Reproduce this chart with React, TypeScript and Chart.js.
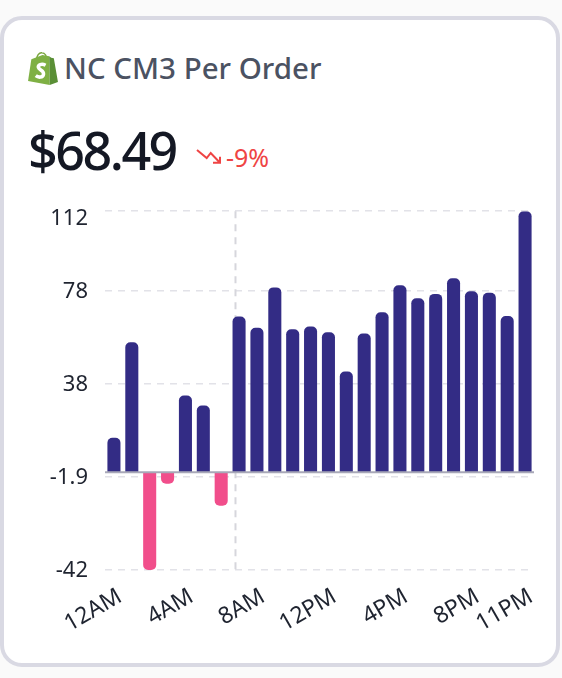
import {useEffect, useRef} from 'react';
import {Chart, registerables} from 'chart.js';

Chart.register(...registerables);

const hours = ['12AM', '1AM', '2AM', '3AM', '4AM', '5AM', '6AM', '7AM', '8AM', '9AM', '10AM', '11AM', '12PM', '1PM', '2PM', '3PM', '4PM', '5PM', '6PM', '7PM', '8PM', '9PM', '10PM', '11PM'];
const values = [14.8, 55.7, -42, -5, 32.9, 28.6, -14.4, 66.8, 62, 79.3, 61.3, 62.5, 60, 43.2, 59.5, 68.6, 80.2, 74.6, 76.5, 83.2, 77.6, 77, 67, 112];
const shownHours = ['12AM', '4AM', '8AM', '12PM', '4PM', '8PM', '11PM'];
const yTicks = [112, 78, 38, -1.9, -42];
// where the dashed marker falls on the category axis, between 6AM and 7AM
const markerAt = 6.8;

const FONT = '"Noto Sans", sans-serif';

const referenceLines = {
	id: 'referenceLines',
	beforeDatasetsDraw(chart: any) {
		const {ctx, chartArea, scales} = chart;
		const x = scales.x.getPixelForValue(markerAt);
		ctx.save();
		ctx.strokeStyle = '#d6d6dc';
		ctx.lineWidth = 2;
		ctx.setLineDash([7, 6]);
		ctx.beginPath();
		ctx.moveTo(x, chartArea.top);
		ctx.lineTo(x, chartArea.bottom);
		ctx.stroke();
		ctx.restore();
	},
	afterDatasetsDraw(chart: any) {
		const {ctx, chartArea, scales} = chart;
		const y = scales.y.getPixelForValue(0);
		ctx.save();
		ctx.strokeStyle = '#a8a8b8';
		ctx.lineWidth = 2;
		ctx.beginPath();
		ctx.moveTo(chartArea.left, y);
		ctx.lineTo(chartArea.right, y);
		ctx.stroke();
		ctx.restore();
	}
};

function ShopifyIcon() {
	return (
		<svg width="30" height="33" viewBox="0 0 29 32" style={{position: 'absolute', left: 28, top: 52}}>
			<path d="M8 9 C8 3 11 0.5 13.5 0.8 C16.5 1 18 4 18 7" fill="none" stroke="#7aa63f" strokeWidth="1.5" />
			<path d="M0 28 L3.2 7 L14 3 L20.5 4 L21 32 Z" fill="#7fb044" />
			<path d="M20.5 4 L22.5 5.5 L25 6 L29 29 L21 32 Z" fill="#5a8f36" />
			<path d="M17 12.8 C13 10.8 9.5 12.5 10 15 C10.5 17.5 15.5 18 15 21.5 C14.5 25 10 25 7.5 23" fill="none" stroke="#ffffff" strokeWidth="3.4" />
		</svg>
	);
}

export default function App() {
	const chartRef: any = useRef(null);

	useEffect(() => {
		document.body.style.margin = '0';
		const chart = new Chart(chartRef.current.getContext('2d'), {
			type: 'bar',
			data: {
				labels: hours,
				datasets: [
					{
						data: values,
						backgroundColor: values.map((v) => (v < 0 ? '#f14e8b' : '#332c85')),
						borderRadius: 5,
						borderSkipped: 'start',
						barPercentage: 0.73,
						categoryPercentage: 1
					}
				]
			},
			plugins: [referenceLines],
			options: {
				animation: false,
				responsive: false,
				layout: {padding: {left: 0, right: 28, top: 21, bottom: 0}},
				plugins: {legend: {display: false}, tooltip: {enabled: false}, title: {display: false}},
				scales: {
					x: {
						grid: {display: false},
						border: {display: false},
						afterFit: (scale: any) => {
							scale.height = 71;
						},
						ticks: {
							autoSkip: false,
							minRotation: 30,
							maxRotation: 30,
							labelOffset: 6,
							padding: 5,
							color: '#1f2430',
							font: {family: FONT, size: 23},
							callback: (_: any, index: number) => (shownHours.includes(hours[index]) ? hours[index] : '')
						}
					},
					y: {
						min: -42,
						max: 112,
						afterBuildTicks: (scale: any) => {
							scale.ticks = yTicks.map((value) => ({value}));
						},
						afterFit: (scale: any) => {
							scale.width = 105;
						},
						grid: {color: '#e2e2e8', lineWidth: 1.5, drawTicks: false},
						border: {display: false, dash: [7, 6]},
						ticks: {
							autoSkip: false,
							padding: 17,
							labelOffset: 1,
							color: '#1f2430',
							// the top label sits below its grid line, so it gets an empty first line
							font: (ctx: any) => ({family: FONT, size: 22, lineHeight: ctx.tick?.value === yTicks[0] ? '14px' : 1.2}),
							callback: (value: any) => (value === yTicks[0] ? ['', String(value)] : String(value))
						}
					}
				}
			}
		});
		return () => {
			chart.destroy();
		};
	}, []);

	return (
		<div style={{position: 'absolute', left: 0, top: 0, width: 562, height: 678, background: '#fafafa', fontFamily: FONT, overflow: 'hidden'}}>
			<div style={{position: 'absolute', left: 0, top: 16, width: 560, height: 651, boxSizing: 'border-box', border: '4px solid #d9d9e3', borderRadius: 22, background: '#ffffff'}} />
			<ShopifyIcon />
			<div style={{position: 'absolute', left: 64, top: 48, fontSize: 29.5, fontWeight: 500, lineHeight: '40px', color: '#4b5262', whiteSpace: 'nowrap'}}>NC CM3 Per Order</div>
			<div style={{position: 'absolute', left: 28, top: 116, fontSize: 52, fontWeight: 500, letterSpacing: -2.5, lineHeight: '68px', color: '#141824', whiteSpace: 'nowrap'}}>$68.49</div>
			<svg width="30" height="24" viewBox="0 0 30 24" style={{position: 'absolute', left: 194, top: 145}}>
				<path d="M3 5 L12.7 13 L16.7 8 L26 17.7 M26 11.7 L26 17.7 L19 17.7" fill="none" stroke="#ef4444" strokeWidth="2" />
			</svg>
			<div style={{position: 'absolute', left: 226, top: 142, fontSize: 25, lineHeight: '30px', color: '#ef4444', whiteSpace: 'nowrap'}}>-9%</div>
			<canvas ref={chartRef} width={562} height={460} style={{position: 'absolute', left: 0, top: 181, width: 562, height: 460}} />
		</div>
	);
}
